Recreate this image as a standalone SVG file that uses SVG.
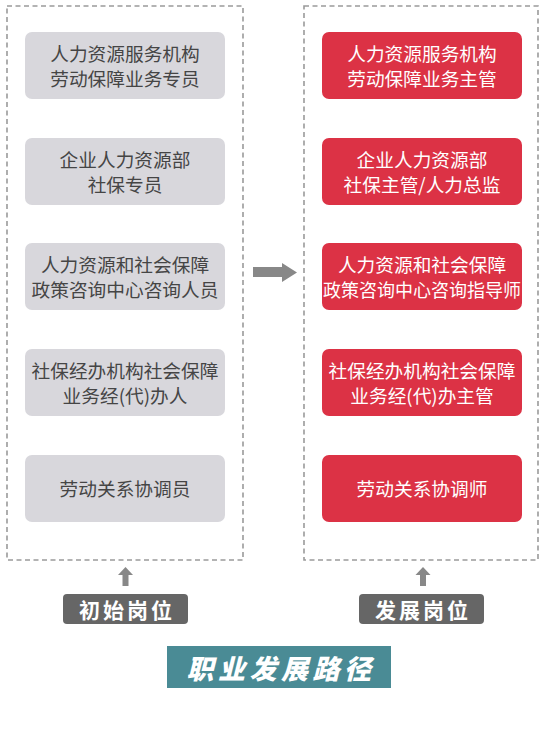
<svg xmlns="http://www.w3.org/2000/svg" width="554" height="733" viewBox="0 0 554 733">
<style>
.frame{fill:none;stroke:#9a9a9a;stroke-width:1.6;stroke-dasharray:5 3.5}
.g rect{fill:#d8d7dc}
.r rect{fill:#dc3245}
text{font-family:"Noto Sans CJK SC","Noto Sans",sans-serif;text-anchor:middle}
.g text{fill:#454545;font-size:18.7px}
.r text{fill:#ffffff;font-size:18.7px}
.lab rect{fill:#666666}
.lab text{fill:#ffffff;font-size:21px;font-weight:bold;letter-spacing:3px}
.arr{fill:#888888}
</style>
<rect width="554" height="733" fill="#ffffff"/>
<g id="frames">
<rect class="frame" x="7" y="6" width="236" height="554"/>
<rect class="frame" x="304" y="6" width="234" height="554"/>
</g>
<g id="l1" class="g"><rect x="25" y="32" width="200" height="67" rx="7"/><text x="125" y="60.5">人力资源服务机构</text><text x="125" y="86">劳动保障业务专员</text></g>
<g id="l2" class="g"><rect x="25" y="138" width="200" height="67" rx="7"/><text x="125" y="166.5">企业人力资源部</text><text x="125" y="192">社保专员</text></g>
<g id="l3" class="g"><rect x="25" y="243" width="200" height="67" rx="7"/><text x="125" y="271.5">人力资源和社会保障</text><text x="125" y="297">政策咨询中心咨询人员</text></g>
<g id="l4" class="g"><rect x="25" y="349" width="200" height="67" rx="7"/><text x="125" y="377.5">社保经办机构社会保障</text><text x="125" y="403">业务经(代)办人</text></g>
<g id="l5" class="g"><rect x="25" y="455" width="200" height="67" rx="7"/><text x="125" y="495.5">劳动关系协调员</text></g>
<g id="r1" class="r"><rect x="322" y="32" width="200" height="67" rx="7"/><text x="422" y="60.5">人力资源服务机构</text><text x="422" y="86">劳动保障业务主管</text></g>
<g id="r2" class="r"><rect x="322" y="138" width="200" height="67" rx="7"/><text x="422" y="166.5">企业人力资源部</text><text x="422" y="192">社保主管/人力总监</text></g>
<g id="r3" class="r"><rect x="322" y="243" width="200" height="67" rx="7"/><text x="422" y="271.5">人力资源和社会保障</text><text x="422" y="297" textLength="198" lengthAdjust="spacingAndGlyphs">政策咨询中心咨询指导师</text></g>
<g id="r4" class="r"><rect x="322" y="349" width="200" height="67" rx="7"/><text x="422" y="377.5">社保经办机构社会保障</text><text x="422" y="403">业务经(代)办主管</text></g>
<g id="r5" class="r"><rect x="322" y="455" width="200" height="67" rx="7"/><text x="422" y="495.5">劳动关系协调师</text></g>
<g id="connectors">
<polygon class="arr" points="253,267 282,267 282,263 297,272.5 282,282 282,277 253,277"/>
<polygon class="arr" points="122.5,586 122.5,575 118,575 125.5,567 133,575 128.5,575 128.5,586"/>
<polygon class="arr" points="420,586 420,575 415.5,575 423,567 430.5,575 426,575 426,586"/>
</g>
<g id="label-start" class="lab"><rect x="63" y="594" width="125" height="30" rx="4"/><text x="127" y="617.5">初始岗位</text></g>
<g id="label-dev" class="lab"><rect x="359" y="594" width="125" height="30" rx="4"/><text x="423" y="617.5">发展岗位</text></g>
<g id="title"><rect x="167" y="646" width="224" height="42" fill="#4a8b95"/><text x="281" y="679" fill="#ffffff" font-size="27" font-weight="900" font-style="italic" letter-spacing="4.5">职业发展路径</text></g>
</svg>
